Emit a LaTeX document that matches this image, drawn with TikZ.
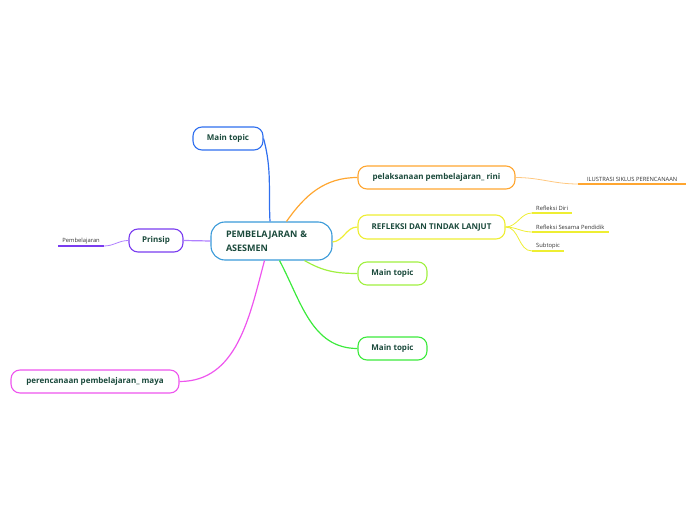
\documentclass[tikz,border=0pt]{standalone}
\usepackage{fontspec}
\setmainfont{Open Sans}
\usepackage{xcolor}
\usetikzlibrary{arrows.meta,positioning,calc}
\definecolor{ink}{HTML}{1B4A3C}
\definecolor{subink}{HTML}{333333}
\definecolor{hub}{HTML}{3A9AD9}
\definecolor{bluey}{HTML}{2F6FEF}
\definecolor{orangey}{HTML}{FFA630}
\definecolor{lightorange}{HTML}{FFC880}
\definecolor{yellowy}{HTML}{EEEE33}
\definecolor{limey}{HTML}{A0F040}
\definecolor{greeny}{HTML}{3CEA3C}
\definecolor{purpley}{HTML}{7A3CF0}
\definecolor{lilac}{HTML}{B080FF}
\definecolor{magentay}{HTML}{EE55EE}

\begin{document}
\begin{tikzpicture}[
  x=1pt,y=1pt,
  topic/.style={draw=#1,line width=1.1pt,rounded corners=9pt,fill=white,
                minimum height=23pt,font=\bfseries\fontsize{8}{9}\selectfont,
                text=ink,inner xsep=6pt},
  centre/.style={draw=hub,line width=1.1pt,rounded corners=14pt,fill=white,
                 minimum height=38pt,text width=91pt,inner xsep=15pt,align=left,
                 font=\bfseries\fontsize{9}{14}\selectfont,text=ink},
  sub/.style={font=\fontsize{5.8}{6.5}\selectfont,text=subink,inner xsep=4pt,
              inner ysep=2pt},
  subline/.style={line width=1.3pt,#1},
  branch/.style={line width=1.2pt,#1},
  twig/.style={line width=0.8pt,#1}
]
\useasboundingbox (0,0) rectangle (696,520);

% central topic
\node[centre] (hubnode) at (271.5,279) {PEMBELAJARAN \&\\ASESMEN};

% main topics
\node[topic=bluey,minimum width=70pt] (maintop) at (228,381.5) {Main topic};
\node[topic=orangey,minimum width=157pt] (pelaks) at (436.5,342.5) {pelaksanaan pembelajaran\_ rini};
\node[topic=yellowy,minimum width=147pt,minimum height=24pt] (refleksi) at (431.5,293) {REFLEKSI DAN TINDAK LANJUT};
\node[topic=limey,minimum width=69pt] (mainlime) at (392.5,246.5) {Main topic};
\node[topic=greeny,minimum width=69pt] (maingreen) at (392.5,171.5) {Main topic};
\node[topic=purpley,minimum width=54pt] (prinsip) at (156,279.5) {Prinsip};
\node[topic=magentay,minimum width=168pt] (perenc) at (95,138.5) {perencanaan pembelajaran\_ maya};

% subtopics
\node[sub,anchor=south west,minimum width=108pt] (ilustrasi) at (578,336) {ILUSTRASI SIKLUS PERENCANAAN};
\node[sub,anchor=south west] (refdiri) at (532,307) {Refleksi Diri};
\node[sub,anchor=south west] (refsesama) at (532,288) {Refleksi Sesama Pendidik};
\node[sub,anchor=south west] (subtop) at (532,269) {Subtopic};
\node[sub,anchor=south east] (pembel) at (104,274) {Pembelajaran};

\draw[subline=orangey] (ilustrasi.south west) -- (ilustrasi.south east);
\draw[subline=yellowy] (refdiri.south west) -- (refdiri.south east);
\draw[subline=yellowy] (refsesama.south west) -- (refsesama.south east);
\draw[subline=yellowy] (subtop.south west) -- (subtop.south east);
\draw[subline=purpley] (pembel.south west) -- (pembel.south east);

% branches from the centre
\draw[branch=bluey] ([xshift=-1.5pt]hubnode.north) to[out=93,in=-75] (maintop.east);
\draw[branch=orangey] ([xshift=15pt]hubnode.north) to[out=55,in=180] (pelaks.west);
\draw[branch=yellowy] ([yshift=-1pt]hubnode.east) to[out=5,in=180] (refleksi.west);
\draw[branch=limey] ([xshift=33pt]hubnode.south) to[out=-30,in=180] (mainlime.west);
\draw[branch=greeny] ([xshift=8pt]hubnode.south) to[out=-62,in=180] (maingreen.west);
\draw[branch=magentay] ([xshift=-7pt]hubnode.south) to[out=-105,in=0] (perenc.east);
\draw[branch=lilac] (hubnode.west) -- (prinsip.east);

% twigs to subtopics
\draw[twig=lightorange] (pelaks.east) to[out=0,in=180] (ilustrasi.south west);
\draw[twig=yellowy] (refleksi.east) to[out=0,in=180] (refdiri.south west);
\draw[twig=yellowy] (refleksi.east) to[out=0,in=180] (refsesama.south west);
\draw[twig=yellowy] (refleksi.east) to[out=0,in=180] (subtop.south west);
\draw[twig=lilac] (prinsip.west) to[out=180,in=0] (pembel.south east);
\end{tikzpicture}
\end{document}
